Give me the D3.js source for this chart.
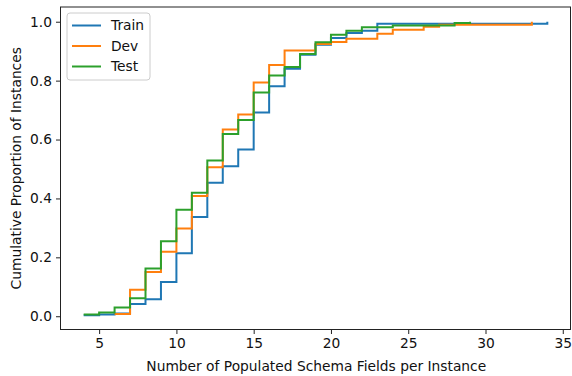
<!DOCTYPE html>
<html>
<head>
<meta charset="utf-8">
<script src="https://cdn.jsdelivr.net/npm/d3@7"></script>
<style>
  body { margin: 0; background: #fff; }
  svg { display: block; font-family: "DejaVu Sans", sans-serif; }
</style>
</head>
<body>
<svg id="chart"></svg>
<script>
// cumulative proportion per number of populated fields
const trainX = [4, 5, 6, 7, 8, 9, 10, 11, 12, 13, 14, 15, 16, 17, 18, 19, 20, 21, 22, 23, 34]
const trainY = [0.003, 0.006, 0.009, 0.042, 0.058, 0.116, 0.214, 0.337, 0.453, 0.509, 0.566, 0.692, 0.781, 0.840, 0.888, 0.922, 0.945, 0.962, 0.969, 0.993, 1.0]

const devX = [6, 7, 8, 9, 10, 11, 12, 13, 14, 15, 16, 17, 19, 20, 21, 23, 24, 26, 27, 33]
const devY = [0.008, 0.090, 0.150, 0.219, 0.298, 0.408, 0.506, 0.634, 0.685, 0.794, 0.853, 0.902, 0.924, 0.931, 0.942, 0.959, 0.973, 0.983, 0.990, 1.0]

const testX = [4, 5, 6, 7, 8, 9, 10, 11, 12, 13, 14, 15, 16, 17, 18, 19, 20, 21, 22, 24, 28, 29]
const testY = [0.006, 0.0125, 0.030, 0.061, 0.162, 0.255, 0.362, 0.419, 0.529, 0.619, 0.666, 0.760, 0.817, 0.846, 0.890, 0.930, 0.956, 0.969, 0.981, 0.987, 0.996, 1.0]

const seriesNames = ["Train", "Dev", "Test"]
const seriesColors = ["#1f77b4", "#ff7f0e", "#2ca02c"]
const xTicks = [5, 10, 15, 20, 25, 30, 35]
const yTicks = [0.0, 0.2, 0.4, 0.6, 0.8, 1.0]

const width = 572
const height = 376
const margin = { left: 60.5, right: 1.5, top: 7, bottom: 46.5 }
const fontSize = 13.8

const svg = d3.select("#chart").attr("width", width).attr("height", height)

const x = d3.scaleLinear().domain([2.5, 35.5]).range([margin.left, width - margin.right])
const y = d3.scaleLinear().domain([-0.045, 1.05]).range([height - margin.bottom, margin.top])

const series = [
  { name: seriesNames[0], color: seriesColors[0], pts: d3.zip(trainX, trainY) },
  { name: seriesNames[1], color: seriesColors[1], pts: d3.zip(devX, devY) },
  { name: seriesNames[2], color: seriesColors[2], pts: d3.zip(testX, testY) }
]

const line = d3.line()
  .x(d => x(d[0]))
  .y(d => y(d[1]))
  .curve(d3.curveStepAfter)

svg.append("g").selectAll("path")
  .data(series)
  .enter()
    .append("path")
    .attr("d", d => line(d.pts))
    .attr("fill", "none")
    .attr("stroke", d => d.color)
    .attr("stroke-width", 2)

// axes
const xAxis = svg.append("g")
  .attr("transform", `translate(0,${height - margin.bottom})`)
  .call(d3.axisBottom(x).tickValues(xTicks).tickSize(4.5).tickPadding(4).tickFormat(d3.format("d")))
const yAxis = svg.append("g")
  .attr("transform", `translate(${margin.left},0)`)
  .call(d3.axisLeft(y).tickValues(yTicks).tickSize(4.5).tickPadding(4).tickFormat(d3.format(".1f")))

;[xAxis, yAxis].forEach(a => {
  a.select(".domain").remove()
  a.selectAll("line").attr("stroke", "#222").attr("stroke-width", 1)
  a.selectAll("text").attr("font-size", fontSize).attr("fill", "#111")
    .attr("font-family", "DejaVu Sans, sans-serif")
})

// spines
svg.append("rect")
  .attr("x", margin.left)
  .attr("y", margin.top)
  .attr("width", width - margin.right - margin.left)
  .attr("height", height - margin.bottom - margin.top)
  .attr("fill", "none")
  .attr("stroke", "#222")
  .attr("stroke-width", 1)

svg.append("text")
  .attr("x", (margin.left + width) / 2)
  .attr("y", 371)
  .attr("text-anchor", "middle")
  .attr("font-size", fontSize)
  .attr("fill", "#111")
  .text("Number of Populated Schema Fields per Instance")

svg.append("text")
  .attr("transform", `translate(21,${(margin.top + height - margin.bottom) / 2}) rotate(-90)`)
  .attr("text-anchor", "middle")
  .attr("font-size", fontSize)
  .attr("fill", "#111")
  .text("Cumulative Proportion of Instances")

// legend
const legend = svg.append("g").attr("transform", "translate(67,13)")
legend.append("rect")
  .attr("width", 83)
  .attr("height", 67)
  .attr("rx", 3)
  .attr("fill", "#fff")
  .attr("fill-opacity", 0.8)
  .attr("stroke", "#ccc")
  .attr("stroke-width", 1)

const item = legend.selectAll(".item")
  .data(series)
  .enter()
    .append("g")
    .attr("transform", (d, i) => `translate(5,${12.5 + i * 20.5})`)
item.append("line")
  .attr("x1", 0).attr("x2", 29)
  .attr("stroke", d => d.color)
  .attr("stroke-width", 2)
item.append("text")
  .attr("x", 39)
  .attr("dy", "0.35em")
  .attr("font-size", fontSize)
  .attr("fill", "#111")
  .text(d => d.name)
</script>
</body>
</html>
